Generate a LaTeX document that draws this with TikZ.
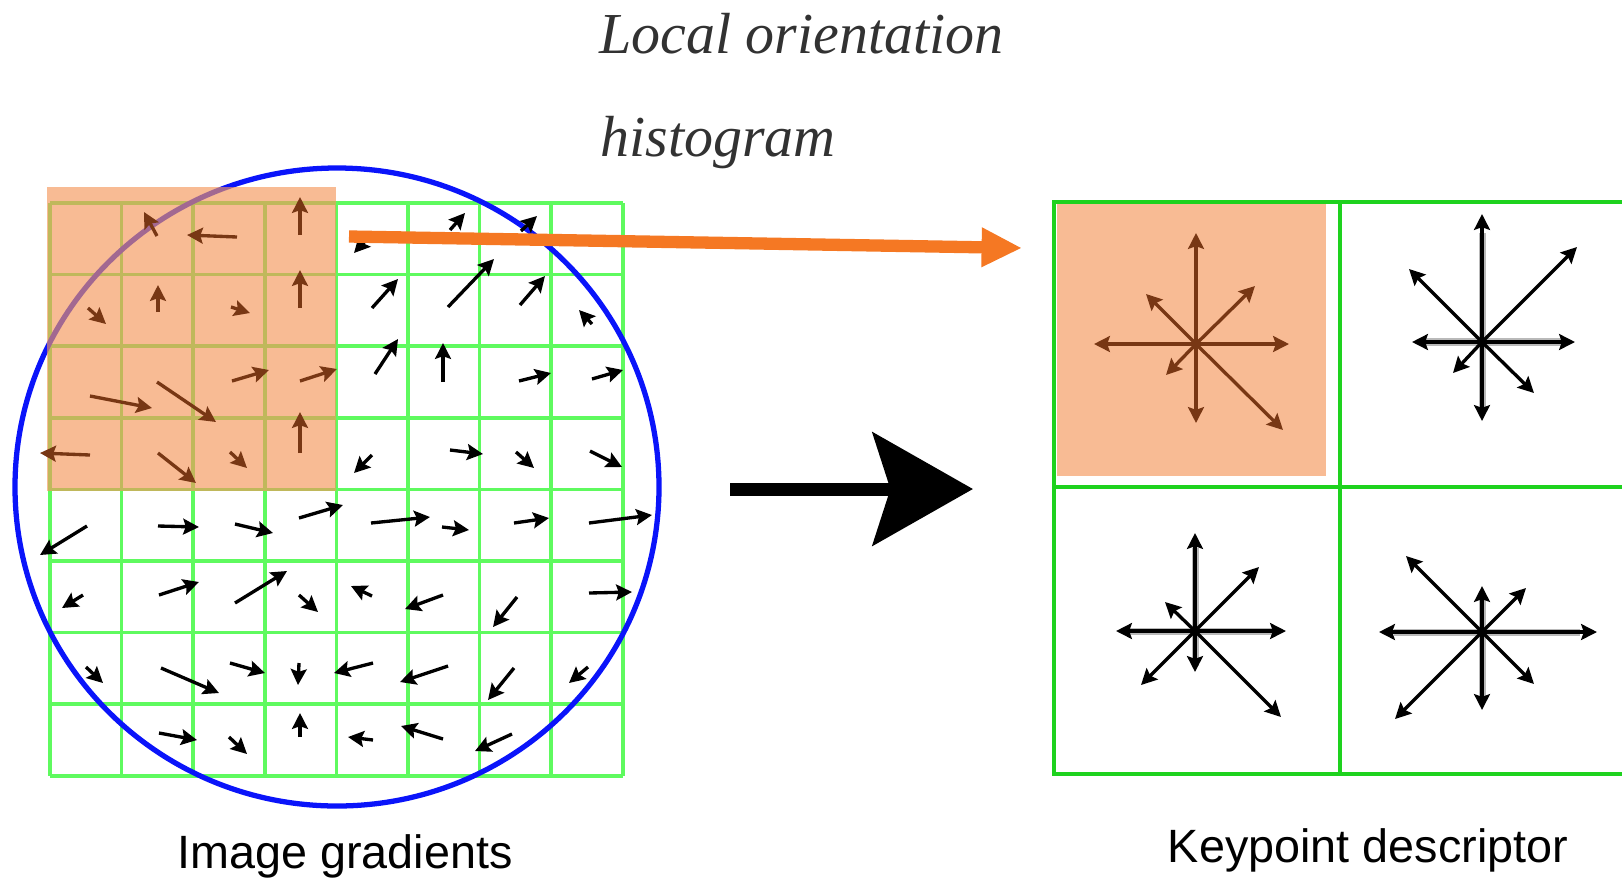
\documentclass[tikz,border=0pt]{standalone}
\usepackage{fontspec}
\usepackage{tikz}
\usetikzlibrary{arrows.meta}
\newfontfamily\titlefont{Liberation Serif}
\newfontfamily\labelfont{Liberation Sans}
\definecolor{gridgreen}{RGB}{95,250,95}
\definecolor{descgreen}{RGB}{30,210,30}
\definecolor{circblue}{RGB}{10,20,250}
\definecolor{patchorange}{RGB}{245,150,90}
\definecolor{historange}{RGB}{245,120,35}
\definecolor{darkbrown}{RGB}{120,55,20}
\definecolor{titlegray}{RGB}{50,50,50}

\begin{document}
\begin{tikzpicture}[x=0.02cm, y=-0.02cm,
  gridline/.style={gridgreen, line width=2pt},
  descline/.style={descgreen, line width=2.8pt},
  patch/.style={fill=patchorange, fill opacity=0.65},
  gradar/.style={line width=1.9pt, -{Stealth[length=9pt,width=9pt,inset=1.5pt]}},
  starar/.style={line width=1.9pt, -{Stealth[length=9pt,width=9pt,inset=1.5pt]}},
  halo/.style={gray!55, line width=4pt},
  labeltext/.style={anchor=base, inner sep=0, font=\labelfont\fontsize{26.6}{32}\selectfont},
  titletext/.style={anchor=base west, inner sep=0, text=titlegray, font=\titlefont\itshape\fontsize{33}{40}\selectfont}]
\useasboundingbox (0,0) rectangle (1622,877);

% image gradients
\foreach \i in {0,...,8} {
  \draw[gridline] ({50+71.6*\i},203) -- ({50+71.6*\i},776);
  \draw[gridline] (50,{203+71.6*\i}) -- (623,{203+71.6*\i});
}
\draw[circblue, line width=3pt] (337,487) circle [x radius=322, y radius=319];
\fill[patch] (47,187) rectangle (336,491);
\foreach \ax/\ay/\bx/\by in {157/236/144/212, 237/237/187/235, 300/235/300/197,
    88/308/106/324, 158/312/158/285, 231/307/250/313, 300/308/300/270,
    90/396/152/408, 157/382/216/422, 232/381/269/370, 300/381/337/369,
    90/455/40/453, 158/453/196/483, 230/452/247/468, 300/453/300/412}
  \draw[gradar, darkbrown] (\ax,\ay) -- (\bx,\by);
\foreach \ax/\ay/\bx/\by in {366/240/354/253, 450/230/465/213, 521/231/537/216,
    372/308/398/279, 448/307/494/259, 520/305/545/276, 592/324/579/310,
    375/374/398/339, 443/382/443/343, 519/381/551/373, 592/379/623/370,
    372/455/354/473, 450/450/483/454, 516/452/534/468, 590/451/622/467,
    87/526/40/555, 158/526/199/527, 235/524/273/533, 299/518/343/505,
    371/523/430/517, 442/527/469/530, 514/523/549/518, 589/523/652/515,
    83/595/62/608, 159/595/199/582, 235/603/287/571, 299/595/318/612,
    372/596/351/586, 443/595/405/609, 517/597/493/627, 589/593/632/592,
    86/667/103/683, 161/668/219/693, 230/663/265/673, 299/663/298/685,
    373/663/334/673, 448/666/400/682, 514/668/488/700, 588/667/569/683,
    159/733/197/740, 229/737/247/754, 300/737/300/713,
    373/740/348/737, 443/739/401/726, 512/734/475/751}
  \draw[gradar] (\ax,\ay) -- (\bx,\by);

% keypoint descriptor
\draw[descline] (1054,202) rectangle (1626,774);
\draw[descline] (1340,202) -- (1340,774);
\draw[descline] (1054,487) -- (1626,487);
\fill[patch] (1057,204) rectangle (1326,476);

\coordinate (binA) at (1196,344);
\coordinate (binB) at (1482,342);
\coordinate (binC) at (1195,631);
\coordinate (binD) at (1482,632);

\foreach \dx/\dy in {0/-111, 0/79, -102/0, 93/0, -50/-50, 59/-58, -30/31, 87/86}
  \draw[starar, darkbrown] (binA) -- ++(\dx,\dy);
\fill[darkbrown] (binA) circle (4);

\foreach \dx/\dy in {0/-128, 0/79, -70/0, 93/0}
  \draw[halo] (binB) -- ++({0.85*\dx},{0.85*\dy});
\foreach \dx/\dy in {0/-128, 0/79, -70/0, 93/0, -73/-73, 95/-95, -29/31, 52/51}
  \draw[starar] (binB) -- ++(\dx,\dy);
\fill (binB) circle (4);

\foreach \dx/\dy in {0/-98, 0/41, -79/0, 91/0}
  \draw[halo] (binC) -- ++({0.85*\dx},{0.85*\dy});
\foreach \dx/\dy in {0/-98, 0/41, -79/0, 91/0, -30/-29, 64/-64, -54/54, 86/86}
  \draw[starar] (binC) -- ++(\dx,\dy);
\fill (binC) circle (4);

\foreach \dx/\dy in {0/-46, 0/78, -103/0, 115/0}
  \draw[halo] (binD) -- ++({0.85*\dx},{0.85*\dy});
\foreach \dx/\dy in {0/-46, 0/78, -103/0, 115/0, -76/-76, 44/-44, -87/87, 52/52}
  \draw[starar] (binD) -- ++(\dx,\dy);
\fill (binD) circle (4);

% arrows between the two
\coordinate (histfrom) at (349,236.5);
\coordinate (histto) at (1022,248);
\draw[historange, line width=7pt, -{Triangle[length=23pt,width=21pt]}] (histfrom) -- (histto);
\coordinate (mapfrom) at (730,489);
\coordinate (mapto) at (973,489);
\draw[line width=7.4pt, -{Stealth[length=57pt,width=64pt,inset=10pt]}] (mapfrom) -- (mapto);

% texts
\node[titletext] (title) at (599,53) {Local orientation};
\node[titletext] (titlesub) at (600,156) {histogram};
\node[labeltext] (gradlabel) at (345,868) {Image gradients};
\node[labeltext] (desclabel) at (1368,862) {Keypoint descriptor};
\end{tikzpicture}
\end{document}
